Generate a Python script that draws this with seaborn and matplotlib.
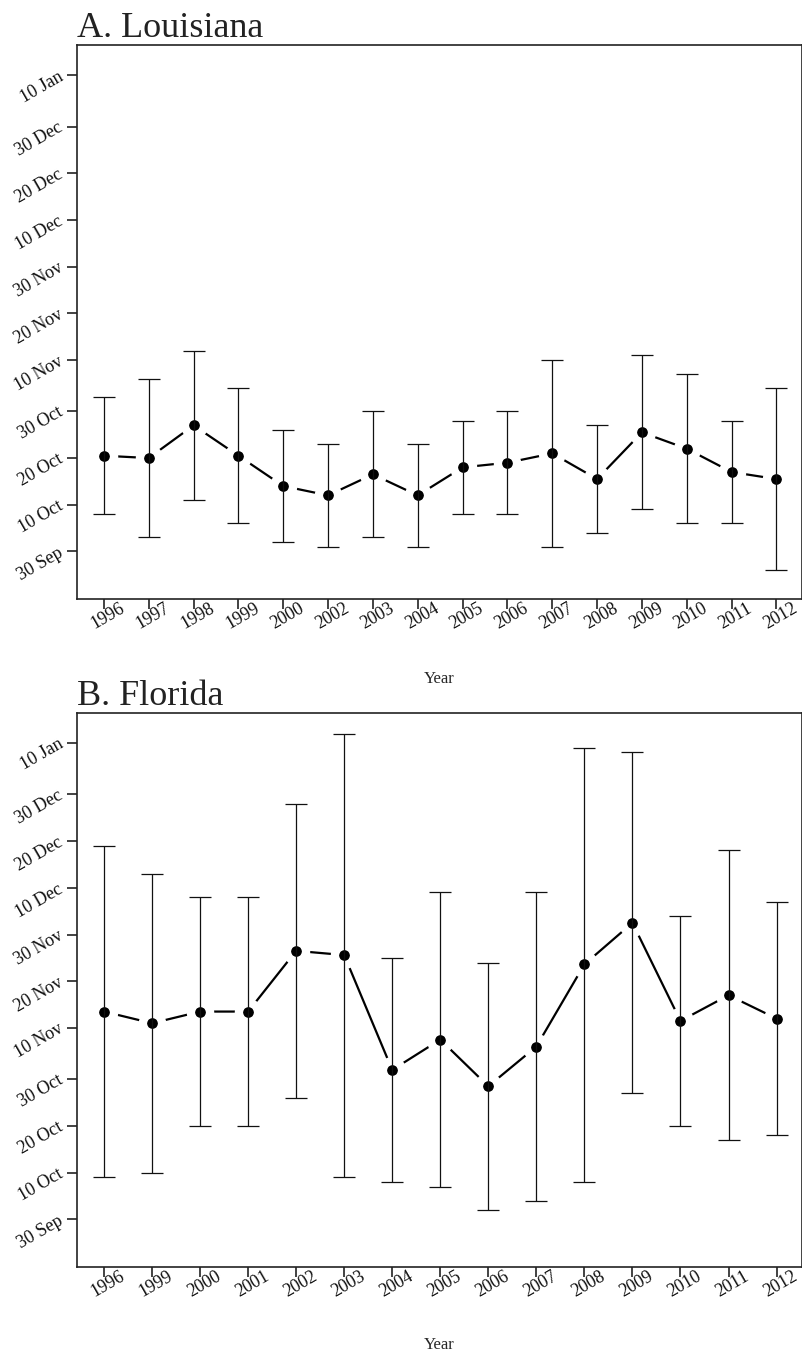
import numpy as np
import pandas as pd
import matplotlib
matplotlib.use("Agg")
import matplotlib.pyplot as plt
import seaborn as sns

# Dates are stored as day of season: 1 = 1 Sep, 30 = 30 Sep, 132 = 10 Jan.
la_years = ["1996", "1997", "1998", "1999", "2000", "2002", "2003", "2004",
            "2005", "2006", "2007", "2008", "2009", "2010", "2011", "2012"]
la_mean = [50.5, 50, 57, 50.5, 44, 42, 46.5, 42, 48, 49, 51, 45.5, 55.5, 52, 47, 45.5]
la_lower = [38, 33, 41, 36, 32, 31, 33, 31, 38, 38, 31, 34, 39, 36, 36, 26]
la_upper = [63, 67, 73, 65, 56, 53, 60, 53, 58, 60, 71, 57, 72, 68, 58, 65]

fl_years = ["1996", "1999", "2000", "2001", "2002", "2003", "2004", "2005",
            "2006", "2007", "2008", "2009", "2010", "2011", "2012"]
fl_mean = [74.5, 72, 74.5, 74.5, 87.5, 86.6, 62, 68.5, 58.5, 67, 84.6, 93.5, 72.5, 78, 73]
fl_lower = [39, 40, 50, 50, 56, 39, 38, 37, 32, 34, 38, 57, 50, 47, 48]
fl_upper = [110, 104, 99, 99, 119, 134, 86, 100, 85, 100, 131, 130, 95, 109, 98]

date_ticks = ["30 Sep", "10 Oct", "20 Oct", "30 Oct", "10 Nov", "20 Nov",
              "30 Nov", "10 Dec", "20 Dec", "30 Dec", "10 Jan"]


def season_day(label):
    d = pd.to_datetime(label + " 2000", format="%d %b %Y")
    if d.month < 9:
        d = d.replace(year=2001)
    return (d - pd.Timestamp("2000-08-31")).days


sns.set_theme(style="ticks")
plt.rcParams["font.family"] = ["Liberation Serif", "DejaVu Serif"]
plt.rcParams["text.color"] = "#1a1a1a"
plt.rcParams["axes.edgecolor"] = "#222222"
plt.rcParams["xtick.color"] = "#222222"
plt.rcParams["ytick.color"] = "#222222"
plt.rcParams["xtick.labelcolor"] = "#111111"
plt.rcParams["ytick.labelcolor"] = "#111111"

fig = plt.figure(figsize=(8.03, 13.52), dpi=100)

W, H = 803, 1352


def px_axes(left, top, right, bottom):
    return fig.add_axes([left / W, 1 - bottom / H, (right - left) / W, (bottom - top) / H])


def draw_panel(ax, title, years, mean, lower, upper, xlim, title_pad, label_y):
    df = pd.DataFrame({"Year": years, "Day": mean})
    sns.pointplot(data=df, x="Year", y="Day", ax=ax, color="black",
                  errorbar=None, markers="o", linestyles="-",
                  markersize=13.8, markeredgewidth=6.0, markeredgecolor="white",
                  linewidth=1.6, zorder=3)
    pos = np.arange(len(years))
    m = np.asarray(mean, dtype=float)
    lo = np.asarray(lower, dtype=float)
    hi = np.asarray(upper, dtype=float)
    ax.errorbar(pos, m, yerr=[m - lo, hi - m], fmt="none", ecolor="#111111",
                elinewidth=0.9, capsize=7.8, capthick=0.9, zorder=5)

    ax.set_xlim(*xlim)
    ax.set_ylim(19.8, 138.5)
    ax.set_yticks([season_day(t) for t in date_ticks], date_ticks)

    for side in ["left", "right", "top", "bottom"]:
        ax.spines[side].set_visible(True)
        ax.spines[side].set_linewidth(1.2)

    ax.tick_params(axis="y", length=7, width=1.2, pad=4, labelsize=13)
    ax.tick_params(axis="x", length=7, width=1.2, pad=0, labelsize=13)
    for lab in ax.get_yticklabels():
        lab.set_rotation(30)
        lab.set_rotation_mode("anchor")
        lab.set_ha("right")
        lab.set_va("center")
    for lab in ax.get_xticklabels():
        lab.set_rotation(30)
        lab.set_rotation_mode("anchor")
        lab.set_ha("center")
        lab.set_va("top")

    ax.set_ylabel("")
    ax.set_xlabel("Year", fontsize=12)
    ax.xaxis.set_label_coords(0.5, label_y)
    ax.set_title(title, loc="left", fontsize=26, pad=title_pad, color="#222222")


ax_a = px_axes(77, 45, 802, 599)
draw_panel(ax_a, "A. Louisiana", la_years, la_mean, la_lower, la_upper,
           (-0.6, 15.57), 6, -0.130)

ax_b = px_axes(77, 712.7, 802, 1267)
draw_panel(ax_b, "B. Florida", fl_years, fl_mean, fl_lower, fl_upper,
           (-0.562, 14.53), 3.5, -0.126)

fig.savefig("out.png", dpi=100, facecolor="white")
